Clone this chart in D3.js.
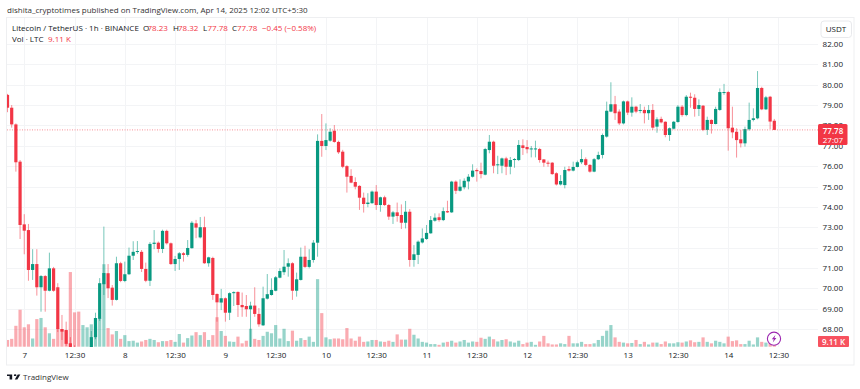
<!DOCTYPE html>
<html><head><meta charset="utf-8">
<script src="https://cdn.jsdelivr.net/npm/d3@7/dist/d3.min.js"></script>
<style>html,body{margin:0;padding:0;background:#fff}svg{display:block}text{font-family:"Open Sans","Noto Sans",sans-serif}</style>
</head><body><div id="chart"></div>
<script>
const opens=[79.5,78.87,78.05,76.22,73.14,72.86,70.9,71.19,70.05,70.6,
69.88,70.98,70.05,68,67.95,67.3,67.12,66.6,66.3,66.5,
66.9,67.6,68.5,70.2,70.74,70.03,69.43,71.23,70.36,70.69,
71.6,71.79,71.79,70.95,70.37,72.18,72.24,71.93,72.82,72.21,
71.19,71.44,71.72,71.64,71.97,73.19,72.5,73.0,71.23,71.49,
69.72,69.3,69.51,68.8,69.76,69.82,69.18,69.13,68.97,69.15,
68.74,68.18,69.49,69.67,69.88,70.52,70.79,71.06,71.23,69.88,
70.41,71.55,71.05,71.39,72.24,77.24,76.99,77.25,77.74,77.19,
76.71,76.0,75.52,75.22,75.03,74.45,74.14,74.18,74.75,74.09,
74.47,74.09,73.52,73.73,73.6,73.22,73.76,71.39,71.64,72.25,
72.42,72.7,73.32,73.49,73.35,73.79,73.73,75.24,74.79,74.96,
75.25,75.48,75.81,75.76,75.58,76.79,77.2,76.05,76.02,76.38,
75.97,76.3,76.3,77.02,76.94,76.84,76.85,76.84,76.33,76.17,
76.17,75.65,75.1,75.07,75.86,75.78,75.96,76.19,76.34,76.06,
75.73,76.34,76.55,77.45,78.68,79.04,78.68,78.1,79.18,78.63,
78.92,78.72,78.76,78.6,78.76,77.94,78.32,78.18,77.53,77.84,
78.17,78.92,78.51,79.41,79.36,78.81,78.97,77.78,78.27,78.07,
78.76,79.61,79.64,77.89,77.69,77.32,77.12,77.81,78.27,78.35,
79.84,78.79,79.41,78.23];
const closes=[78.87,78.05,76.19,73.11,72.83,70.9,71.19,70.05,70.6,69.88,
70.98,69.88,68,67.87,67.27,67.12,66.6,66.3,66.5,66.9,
67.6,68.54,70.25,70.75,70,69.43,71.23,70.36,70.69,71.6,
71.79,71.83,70.95,70.37,72.18,72.24,71.93,72.82,72.21,71.19,
71.44,71.72,71.64,71.98,73.22,72.98,73.0,71.23,71.52,69.67,
69.31,69.51,68.8,69.76,69.81,69.18,69.07,68.97,69.15,68.74,
68.23,69.51,69.71,69.92,70.54,70.85,71.06,71.23,69.88,70.44,
71.55,71.05,71.39,72.24,77.24,76.99,77.28,77.69,77.19,76.68,
75.97,75.48,75.19,74.99,74.45,74.14,74.21,74.75,74.09,74.47,
74.09,73.52,73.73,73.55,73.22,73.76,71.39,71.67,72.29,72.45,
72.72,73.35,73.47,73.35,73.79,73.73,75.24,74.79,74.99,75.28,
75.48,75.78,75.75,75.61,76.84,77.2,76.02,76.09,76.38,75.97,
76.3,76.35,77.04,76.89,76.83,76.87,76.87,76.3,76.17,76.12,
75.61,75.1,75.27,75.81,75.78,75.96,76.19,76.35,76.06,75.73,
76.34,76.55,77.53,78.72,79.04,78.6,78.1,79.18,78.63,78.92,
78.68,78.76,78.6,78.76,77.89,78.3,78.15,77.53,77.86,78.18,
78.92,78.51,79.41,79.36,78.81,79.0,77.78,78.27,78.07,78.81,
79.64,79.64,77.86,77.66,77.28,77.12,77.82,78.27,78.35,79.84,
78.79,79.38,78.19,77.78];
const highs=[79.55,79.0,78.1,76.3,73.64,73.16,71.92,71.92,70.65,70.65,
71.75,71.05,70.25,68.69,68.36,67.6,67.2,66.7,66.6,67.0,
67.9,68.8,70.5,73.03,71.19,70.16,71.55,71.3,71.31,72.0,
72.31,72.32,71.88,71.26,72.27,72.86,72.3,72.88,72.88,72.25,
71.59,71.78,71.78,72.37,73.3,73.36,73.5,73.52,71.55,71.55,
69.75,69.97,69.55,69.8,69.85,69.85,69.79,69.67,69.34,70.05,
69.03,70.08,70.7,70.49,70.6,70.98,71.88,71.47,71.28,70.77,
72.0,72.09,71.92,72.37,77.56,78.56,78.1,77.86,78.02,77.25,
76.8,76.05,75.85,75.45,75.06,74.7,74.67,74.8,75.07,74.5,
74.55,74.14,73.8,74.21,74.12,74.29,73.89,72.12,72.35,72.94,
73.11,73.55,73.68,73.68,73.97,74.3,75.28,75.3,75.35,75.4,
75.61,76.09,75.89,76.17,76.9,77.53,77.25,76.51,76.42,76.46,
76.45,76.4,77.28,77.32,77.28,76.99,77.25,76.9,76.35,76.27,
76.2,75.7,75.56,75.97,76.0,76.22,76.27,76.83,76.43,76.1,
76.4,76.71,77.6,79.17,80.12,79.45,78.79,79.22,79.22,79.38,
78.96,79.05,78.92,79.0,79.05,78.4,78.43,78.2,77.9,78.22,
79.0,79.0,79.49,79.61,79.53,79.28,79.0,78.43,78.3,78.92,
79.82,80.04,79.7,78.92,77.86,77.78,77.94,79.12,78.84,80.67,
79.9,79.45,79.45,78.32];
const lows=[78.65,77.89,75.73,72.42,71.67,70.37,70.41,69.64,68.85,68.85,
69.85,69.83,67.85,67.46,67.17,67.05,66.3,66.1,66.1,66.4,
66.8,67.5,68.4,69.67,69.52,69.15,69.4,70.3,70.3,70.65,
71.39,71.69,70.8,70.3,70.11,71.92,71.75,71.73,72.15,71.15,
70.85,70.9,71.31,71.55,71.95,72.46,72.45,71.2,71.06,69.43,
68.36,68.93,68.36,68.44,69.13,68.59,68.6,68.6,67.1,68.6,
68.11,68.15,69.45,69.64,69.85,70.49,70.65,70.57,69.43,69.59,
70.38,71.0,70.98,71.26,71.55,76.46,76.79,77.2,77.15,76.6,
75.9,74.7,75.16,74.86,73.85,73.72,73.98,74.15,73.85,73.76,
74.04,73.36,73.16,73.27,72.91,72.94,71.06,71.06,71.19,72.2,
72.38,72.68,73.27,73.27,73.3,73.7,73.7,74.63,74.75,74.86,
74.86,75.44,75.24,75.4,75.55,76.63,75.65,75.61,75.65,75.56,
75.6,75.92,76.25,76.55,76.63,76.43,76.43,76.17,75.97,75.97,
75.57,75.05,75.05,74.91,75.73,75.74,75.94,76.1,76.0,75.68,
75.7,76.3,76.38,77.4,78.65,78.27,78.02,78.05,78.51,78.43,
78.6,78.6,78.1,78.27,77.78,77.64,78.1,77.42,77.24,77.8,
78.13,78.43,78.45,78.87,78.43,78.46,77.72,77.53,77.6,78.05,
78.72,79.5,76.76,77.37,76.42,76.92,76.96,77.74,78.2,78.3,
78.75,78.76,77.82,77.78];
const volumes=[18,21,56,99,52,60,22,74,77,52,
36,21,49,47,43,200,92,94,58,52,
60,54,76,221,50,33,42,21,31,15,
16,11,14,18,21,18,12,15,15,18,
13,34,11,23,30,39,31,39,18,31,
79,42,29,14,13,27,9,16,48,21,
18,29,40,36,58,22,48,15,43,16,
23,18,27,13,181,90,25,20,22,22,
20,50,22,16,27,13,14,18,18,14,
13,16,13,33,19,19,48,32,22,13,
11,7,7,5,11,13,16,11,14,18,
11,14,13,24,21,27,20,14,18,20,
14,11,16,7,11,13,5,14,29,9,
6,6,9,7,29,9,9,13,7,7,
9,18,29,43,58,25,13,11,9,10,
18,7,13,6,11,11,7,14,9,9,
12,11,14,17,12,13,25,13,9,16,
13,9,27,15,17,7,7,16,6,25,
13,11,9,9.11];
const priceTicks=d3.range(68,83);
const timeTickIdx=d3.range(4,185,12);
const timeTickLabels=["7","12:30","8","12:30","9","12:30","10","12:30","11","12:30","12","12:30","13","12:30","14","12:30"];
const lastPrice=77.78, countdown="27:07", volLabel="9.11 K";
const titleText="dishita_cryptotimes published on TradingView.com, Apr 14, 2025 12:02 UTC+5:30";
const symbolText="Litecoin / TetherUS · 1h · BINANCE";
const ohlc=[["O","78.23"],["H","78.32"],["L","77.78"],["C","77.78"]];

[opens,closes,highs,lows,volumes].forEach(a=>{if(a.length!==184)throw new Error("length "+a.length)});

const W=860,H=389,FS=8;
const UP="#089981",DOWN="#f23645",TXT="#131722",RED="#f7525f";
const pane={l:7,t:18,r:818,b:347};
const x=d3.scaleLinear().domain([0,183]).range([7.5,774.3]);
const y=d3.scaleLinear().domain([68,82]).range([329,44]);
const v=d3.scaleLinear().domain([0,9.11]).range([346.7,343.3]);
const data=opens.map((o,i)=>({i,o,c:closes[i],h:highs[i],l:lows[i],vol:volumes[i],up:closes[i]>=o}));

const svg=d3.select("#chart").append("svg").attr("width",W).attr("height",H);
svg.append("rect").attr("width",W).attr("height",H).attr("fill","#fff");
svg.append("rect").attr("x",6.5).attr("y",17.5).attr("width",847.5).attr("height",347.5)
  .attr("fill","#fff").attr("stroke","#eeeff1");
svg.append("defs").append("clipPath").attr("id","pane").append("rect")
  .attr("x",pane.l).attr("y",pane.t).attr("width",pane.r-pane.l).attr("height",pane.b-pane.t);

// grid
const grid=svg.append("g").attr("stroke","#f3f4f6");
grid.selectAll("line.h").data(priceTicks).join("line").attr("class","h")
  .attr("x1",pane.l).attr("x2",pane.r).attr("y1",d=>Math.round(y(d))+.5).attr("y2",d=>Math.round(y(d))+.5);
grid.selectAll("line.v").data(timeTickIdx).join("line").attr("class","v")
  .attr("y1",pane.t).attr("y2",pane.b).attr("x1",d=>Math.round(x(d))+.5).attr("x2",d=>Math.round(x(d))+.5);

const plot=svg.append("g").attr("clip-path","url(#pane)");
// volume
plot.selectAll("rect.vol").data(data).join("rect").attr("class","vol")
  .attr("x",d=>x(d.i)-1.6).attr("width",3.2)
  .attr("y",d=>v(d.vol)).attr("height",d=>v(0)-v(d.vol))
  .attr("fill",d=>d.up?UP:DOWN).attr("fill-opacity",.42);
// wicks
plot.selectAll("line.wick").data(data).join("line").attr("class","wick")
  .attr("x1",d=>x(d.i)).attr("x2",d=>x(d.i)).attr("y1",d=>y(d.h)).attr("y2",d=>y(d.l))
  .attr("stroke",d=>d.up?UP:DOWN).attr("stroke-width",1).attr("stroke-opacity",.55);
// bodies
plot.selectAll("rect.body").data(data).join("rect").attr("class","body")
  .attr("x",d=>x(d.i)-1.6).attr("width",3.2)
  .attr("y",d=>y(Math.max(d.o,d.c))).attr("height",d=>Math.max(1,Math.abs(y(d.o)-y(d.c))))
  .attr("fill",d=>d.up?UP:DOWN);

// last price line
svg.append("line").attr("x1",pane.l).attr("x2",pane.r).attr("y1",y(lastPrice)).attr("y2",y(lastPrice))
  .attr("stroke",DOWN).attr("stroke-opacity",.55).attr("stroke-dasharray","1 1.5");

// axes
const yAxis=svg.append("g").attr("transform","translate(843,0)")
  .call(d3.axisLeft(y).tickValues(priceTicks).tickSize(0).tickPadding(0).tickFormat(d3.format(".2f")));
yAxis.select(".domain").remove();
yAxis.selectAll("text").attr("font-size",FS).attr("fill",TXT).attr("font-family",null).style("font-family",'"Open Sans",sans-serif');
const tx=d3.scaleOrdinal().domain(timeTickIdx).range(timeTickLabels);
const xAxis=svg.append("g").attr("transform","translate(0,352.7)")
  .call(d3.axisBottom(x).tickValues(timeTickIdx).tickSize(0).tickPadding(0).tickFormat(d=>tx(d)));
xAxis.select(".domain").remove();
xAxis.selectAll("text").attr("font-size",FS).attr("fill",TXT).attr("font-family",null).style("font-family",'"Open Sans",sans-serif');

// last price label
svg.append("rect").attr("x",818).attr("y",124).attr("width",29.5).attr("height",21).attr("rx",1.5).attr("fill",DOWN);
svg.append("text").attr("x",833).attr("y",133.5).attr("text-anchor","middle").attr("font-size",FS).attr("font-weight",600).attr("fill","#fff").text(lastPrice.toFixed(2));
svg.append("text").attr("x",833).attr("y",143).attr("text-anchor","middle").attr("font-size",FS).attr("fill","#fff").text(countdown);
// volume label
svg.append("rect").attr("x",818).attr("y",336).attr("width",31).attr("height",11).attr("rx",1).attr("fill",RED);
svg.append("text").attr("x",833.5).attr("y",344.5).attr("text-anchor","middle").attr("font-size",FS).attr("font-weight",600).attr("fill","#fff").text(volLabel);
// currency button
svg.append("rect").attr("x",821).attr("y",21).attr("width",30.5).attr("height",16.5).attr("rx",3).attr("fill","#fff").attr("stroke","#e8e9ec");
svg.append("text").attr("x",836).attr("y",32.2).attr("text-anchor","middle").attr("font-size",FS).attr("fill",TXT).text("USDT");

// lightning badge
const bx=x(183)-.3,by=338.7;
svg.append("circle").attr("cx",bx).attr("cy",by).attr("r",6.6).attr("fill","#fff").attr("stroke","#9c27b0").attr("stroke-width",1.1);
svg.append("path").attr("transform",`translate(${bx},${by})`).attr("d","M1.4-3.8-2.2.6H-.2L-1.2 3.8 2.4-.8H.4Z").attr("fill","#9c27b0");

// titles
svg.append("text").attr("x",7).attr("y",13).attr("font-size",FS).attr("fill","#333").text(titleText);
svg.append("text").attr("x",12).attr("y",31).attr("font-size",FS).attr("fill",TXT).text(symbolText);
const lx=[143,173,203,232], vx=[147.5,178,207.5,237];
ohlc.forEach((d,i)=>{
  svg.append("text").attr("x",lx[i]).attr("y",31).attr("font-size",FS).attr("fill",TXT).text(d[0]);
  svg.append("text").attr("x",vx[i]).attr("y",31).attr("font-size",FS).attr("fill",DOWN).text(d[1]);
});
svg.append("text").attr("x",262).attr("y",31).attr("font-size",FS).attr("fill",DOWN).text("−0.45 (−0.58%)");
svg.append("text").attr("x",12).attr("y",42).attr("font-size",FS).attr("fill",TXT).text("Vol · LTC");
svg.append("text").attr("x",48).attr("y",42).attr("font-size",FS).attr("fill",DOWN).text(volLabel);

// footer
svg.append("path").attr("transform","translate(7,373) scale(0.37,0.25)")
  .attr("d","M14 6H0v6h7v14h7V6Zm14 20h-7L29 6h7l-8 20ZM22 12a3.5 3.5 0 1 0 0-7 3.5 3.5 0 0 0 0 7Z").attr("fill","#131722");
svg.append("text").attr("x",23).attr("y",380).attr("font-size",FS).attr("fill","#333").text("TradingView");
</script></body></html>
